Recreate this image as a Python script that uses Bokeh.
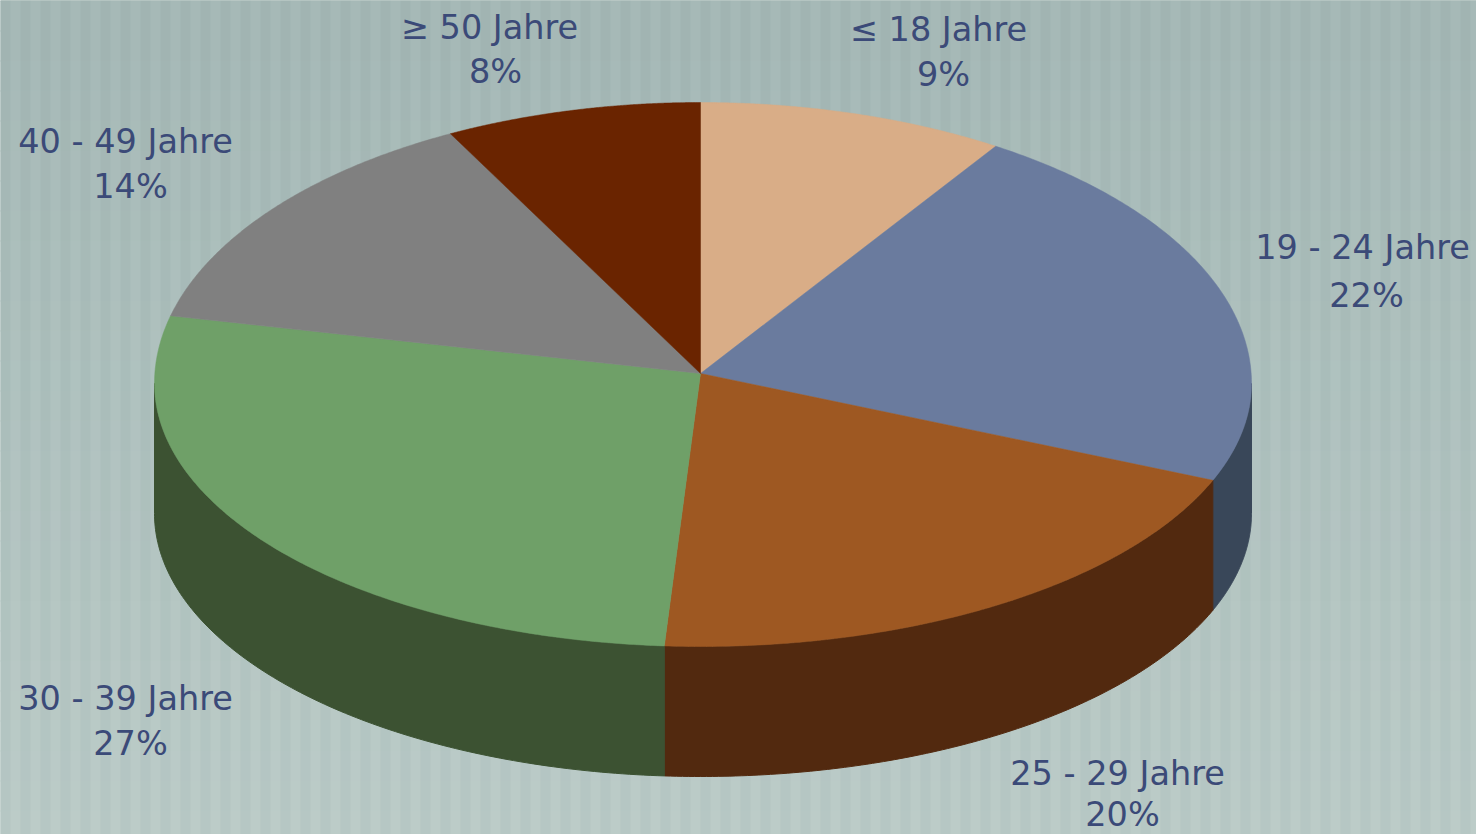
import numpy as np
from bokeh.plotting import figure
from bokeh.models import Range1d
from bokeh.core.properties import value
from bokeh.embed import file_html
from bokeh.resources import INLINE

categories = ["≤ 18 Jahre", "19 - 24 Jahre", "25 - 29 Jahre", "30 - 39 Jahre", "40 - 49 Jahre", "≥ 50 Jahre"]
shares = [9, 22, 20, 27, 14, 8]
top_colors = ["#d9ad87", "#6a7b9e", "#9e5822", "#6fa068", "#808080", "#6a2400"]
side_colors = ["#6d5542", "#394759", "#52290f", "#3c5232", "#404040", "#331100"]
name_x = [938, 1362, 1117, 125, 125, 489]
name_y = [29, 247, 773, 698, 141, 27]
pct_x = [943, 1366, 1122, 130, 130, 495]
pct_y = [74, 295, 814, 743, 186, 71]

W, H = 1476, 834
APEX_X, APEX_Y = 700, 373
RX_LEFT, RX_RIGHT = 546, 551
RIM_Y, RY_UP, RY_DOWN, DEPTH = 383, 281, 263, 130
WARP_DEG = 3.2

p = figure(width=W, height=H, output_backend="svg", toolbar_location=None,
           x_range=Range1d(0, W), y_range=Range1d(H, 0), min_border=0)
p.axis.visible = False
p.grid.visible = False
p.outline_line_color = None
p.background_fill_color = "#aebfbc"

# Softly graded backdrop with fine vertical stripes
band_h = 30
band_tops = np.arange(-band_h, H + band_h, band_h)
top_rgb, bottom_rgb = np.array([164, 183, 181]), np.array([187, 204, 200])
band_cols = []
for t in np.clip(band_tops / H, 0, 1):
    c = (top_rgb + (bottom_rgb - top_rgb) * t).astype(int)
    band_cols.append("#%02x%02x%02x" % tuple(c))
p.quad(left=-5, right=W + 5, top=band_tops, bottom=band_tops + band_h + 1,
       fill_color=band_cols, line_color=None)
stripe_x = np.arange(-20, W + 20, 20)
p.quad(left=stripe_x, right=stripe_x + 10, top=-5, bottom=H + 5,
       fill_color="#5f7378", fill_alpha=0.035, line_color=None)
p.quad(left=stripe_x + 10, right=stripe_x + 20, top=-5, bottom=H + 5,
       fill_color="#ffffff", fill_alpha=0.03, line_color=None)

fractions = np.cumsum([0] + shares) / sum(shares)
starts = fractions[:-1] * 2 * np.pi
ends = fractions[1:] * 2 * np.pi

def warp(a):
    # the reference's slight perspective on the far-left part of the rim
    a = np.asarray(a)
    return np.where(a > np.pi, a + np.radians(WARP_DEG) * np.sin(a - np.pi), a)

def px(a):
    s = np.sin(warp(a))
    return APEX_X + np.where(s >= 0, RX_RIGHT, RX_LEFT) * s

def py(a):
    c = np.cos(warp(a))
    return RIM_Y - np.where(c >= 0, RY_UP, RY_DOWN) * c

wall_xs, wall_ys, wall_cols = [], [], []
top_xs, top_ys = [], []
for a0, a1, side in zip(starts, ends, side_colors):
    lo, hi = max(a0, np.pi / 2), min(a1, 3 * np.pi / 2 - np.radians(WARP_DEG))
    if hi > lo:
        arc = np.linspace(lo, hi, 120)
        wall_xs.append(np.concatenate([px(arc), px(arc[::-1])]).tolist())
        wall_ys.append(np.concatenate([py(arc), py(arc[::-1]) + DEPTH]).tolist())
        wall_cols.append(side)
    arc = np.linspace(a0, a1, 160)
    top_xs.append([APEX_X] + px(arc).tolist())
    top_ys.append([APEX_Y] + py(arc).tolist())

p.patches(wall_xs, wall_ys, fill_color=wall_cols, line_color=wall_cols, line_width=1)
p.patches(top_xs, top_ys, fill_color=top_colors, line_color=top_colors, line_width=0.5)

labels = [f"{s}%" for s in shares]
text_style = dict(text_font=value("DejaVu Sans"), text_font_size="33.5px", text_color="#3b4a78",
                  text_align="center", text_baseline="middle")
p.text(name_x, name_y, text=categories, **text_style)
p.text(pct_x, pct_y, text=labels, **text_style)

html = file_html(p, INLINE)
html = html.replace("<head>", "<head><style>html,body{margin:0;padding:0;overflow:hidden}</style>", 1)
open("out.html", "w").write(html)
